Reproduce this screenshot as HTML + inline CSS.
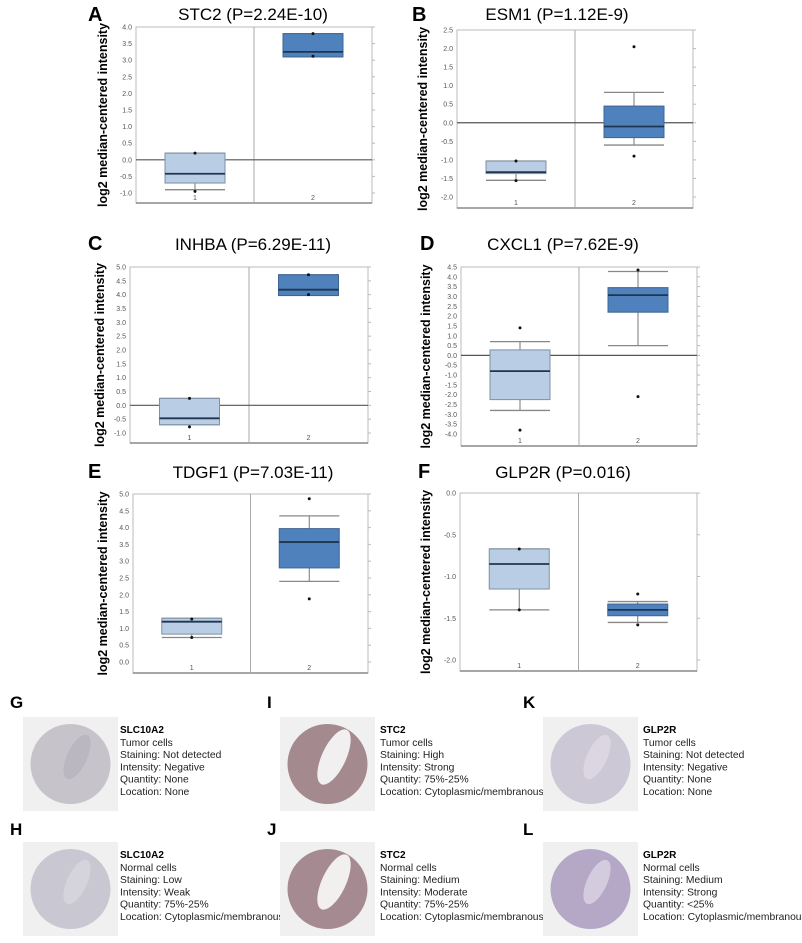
<!DOCTYPE html>
<html><head><meta charset="utf-8"><style>
body{margin:0;background:#fff;}
svg{display:block}
</style></head><body>
<svg id="s" width="802" height="943" xmlns="http://www.w3.org/2000/svg" font-family="Liberation Sans, sans-serif"></svg>
<script>
const P=[
{L:"A",lx:88,ly:21,t:"STC2 (P=2.24E-10)",tc:253,ty:20,x0:136,x1:372,ytop:27,ybot:193,vmax:4.0,vmin:-1.0,step:0.5,bot:203,yl:107,
 b:[[-0.9,-0.7,-0.42,0.2,0.2,[0.2,-0.95]],[3.1,3.1,3.25,3.8,3.8,[3.8,3.12]]]},
{L:"B",lx:412,ly:21,t:"ESM1 (P=1.12E-9)",tc:557,ty:20,x0:457,x1:693,ytop:30,ybot:197,vmax:2.5,vmin:-2.0,step:0.5,bot:208,yl:427,
 b:[[-1.55,-1.37,-1.33,-1.03,-1.03,[-1.03,-1.56]],[-0.6,-0.4,-0.1,0.45,0.82,[2.05,-0.9]]]},
{L:"C",lx:88,ly:250,t:"INHBA (P=6.29E-11)",tc:253,ty:250,x0:130,x1:368,ytop:267,ybot:433,vmax:5.0,vmin:-1.0,step:0.5,bot:443,yl:104,
 b:[[-0.7,-0.7,-0.47,0.25,0.25,[0.25,-0.78]],[3.97,3.97,4.18,4.72,4.72,[4.72,4.0]]]},
{L:"D",lx:420,ly:250,t:"CXCL1 (P=7.62E-9)",tc:563,ty:250,x0:461,x1:697,ytop:267,ybot:434,vmax:4.5,vmin:-4.0,step:0.5,bot:446,yl:430,
 b:[[-2.8,-2.25,-0.8,0.28,0.7,[1.4,-3.8]],[0.5,2.2,3.07,3.45,4.27,[4.35,-2.1]]]},
{L:"E",lx:88,ly:478,t:"TDGF1 (P=7.03E-11)",tc:253,ty:478,x0:133,x1:368,ytop:494,ybot:662,vmax:5.0,vmin:0.0,step:0.5,bot:673,yl:107,
 b:[[0.73,0.83,1.2,1.3,1.3,[1.28,0.73]],[2.4,2.8,3.57,3.97,4.35,[4.86,1.88]]]},
{L:"F",lx:418,ly:478,t:"GLP2R (P=0.016)",tc:563,ty:478,x0:460,x1:697,ytop:493,ybot:660,vmax:0.0,vmin:-2.0,step:0.5,bot:671,yl:430,
 b:[[-1.4,-1.15,-0.85,-0.67,-0.67,[-0.67,-1.4]],[-1.55,-1.47,-1.4,-1.33,-1.3,[-1.21,-1.58]]]}
];
let h="";
for(const p of P){
 const Y=v=>p.ytop+(p.vmax-v)/(p.vmax-p.vmin)*(p.ybot-p.ytop);
 h+=`<text x="${p.lx}" y="${p.ly}" font-size="20" font-weight="bold">${p.L}</text>`;
 h+=`<text x="${p.tc}" y="${p.ty}" font-size="17" text-anchor="middle">${p.t}</text>`;
 const w=p.x1-p.x0,xm=(p.x0+p.x1)/2;
 h+=`<rect x="${p.x0}" y="${p.ytop}" width="${w}" height="${p.bot-p.ytop}" fill="#fff" stroke="#bbb"/>`;
 h+=`<line x1="${p.x0}" y1="${p.bot}" x2="${p.x1}" y2="${p.bot}" stroke="#888" stroke-width="1.5"/>`;
 h+=`<line x1="${xm}" y1="${p.ytop}" x2="${xm}" y2="${p.bot}" stroke="#aaa"/>`;
 for(let v=p.vmax;v>=p.vmin-1e-6;v-=p.step){
  const y=Y(v);
  h+=`<text x="${p.x0-4}" y="${y+2.5}" font-size="7" fill="#555" text-anchor="end">${v.toFixed(1)}</text>`;
  h+=`<line x1="${p.x1}" y1="${y}" x2="${p.x1+3}" y2="${y}" stroke="#bbb"/>`;
 }
 if(p.vmin<0&&p.vmax>0) h+=`<line x1="${p.x0}" y1="${Y(0)}" x2="${p.x1}" y2="${Y(0)}" stroke="#555" stroke-width="1.2"/>`;
 h+=`<text x="${p.x0+w/4}" y="${p.bot-3}" font-size="7" fill="#555" text-anchor="middle">1</text>`;
 h+=`<text x="${p.x0+3*w/4}" y="${p.bot-3}" font-size="7" fill="#555" text-anchor="middle">2</text>`;
 h+=`<text transform="translate(${p.yl},${(p.ytop+p.bot)/2}) rotate(-90)" font-size="12.5" font-weight="bold" text-anchor="middle">log2 median-centered intensity</text>`;
 p.b.forEach((b,i)=>{
  const c=p.x0+w*(i?0.75:0.25),bw=60,x=c-bw/2;
  const fill=i?"#4f81bd":"#b9cde5",st=i?"#3d6593":"#7f8fa3";
  h+=`<line x1="${c}" y1="${Y(b[0])}" x2="${c}" y2="${Y(b[4])}" stroke="#777"/>`;
  h+=`<line x1="${x}" y1="${Y(b[0])}" x2="${x+bw}" y2="${Y(b[0])}" stroke="#888" stroke-width="1.3"/>`;
  h+=`<line x1="${x}" y1="${Y(b[4])}" x2="${x+bw}" y2="${Y(b[4])}" stroke="#888" stroke-width="1.3"/>`;
  h+=`<rect x="${x}" y="${Y(b[3])}" width="${bw}" height="${Math.max(2,Y(b[1])-Y(b[3]))}" fill="${fill}" stroke="${st}"/>`;
  h+=`<line x1="${x}" y1="${Y(b[2])}" x2="${x+bw}" y2="${Y(b[2])}" stroke="#1f3550" stroke-width="1.8"/>`;
  for(const o of b[5]) h+=`<circle cx="${c}" cy="${Y(o)}" r="1.5" fill="#111"/>`;
 });
}
const T=[
["G",10,708,23,717,120,"SLC10A2",["Tumor cells","Staining: Not detected","Intensity: Negative","Quantity: None","Location: None"],"#c6c3cb","#b3afbb",0],
["H",10,835,23,842,120,"SLC10A2",["Normal cells","Staining: Low","Intensity: Weak","Quantity: 75%-25%","Location: Cytoplasmic/membranous"],"#c9c8d2","#dddce2",0],
["I",267,708,280,717,380,"STC2",["Tumor cells","Staining: High","Intensity: Strong","Quantity: 75%-25%","Location: Cytoplasmic/membranous"],"#a48a8e","#f6f4f4",1],
["J",267,835,280,842,380,"STC2",["Normal cells","Staining: Medium","Intensity: Moderate","Quantity: 75%-25%","Location: Cytoplasmic/membranous"],"#a58a92","#f6f4f4",1],
["K",523,708,543,717,643,"GLP2R",["Tumor cells","Staining: Not detected","Intensity: Negative","Quantity: None","Location: None"],"#cdc8d6","#e4e0ea",0],
["L",523,835,543,842,643,"GLP2R",["Normal cells","Staining: Medium","Intensity: Strong","Quantity: <25%","Location: Cytoplasmic/membranous"],"#b4a8c6","#e8e4ee",0]
];
for(const t of T){
 const [L,lx,ly,ix,iy,tx,g,lines,c1,c2,wt]=t;
 h+=`<text x="${lx}" y="${ly}" font-size="17" font-weight="bold">${L}</text>`;
 h+=`<rect x="${ix}" y="${iy}" width="95" height="94" fill="#f0f0f0"/>`;
 h+=`<circle cx="${ix+47.5}" cy="${iy+47}" r="40" fill="${c1}"/>`;
 h+=`<ellipse cx="${ix+54}" cy="${iy+40}" rx="${wt?12:10}" ry="${wt?30:24}" fill="${c2}" opacity="${wt?0.95:0.6}" transform="rotate(25 ${ix+54} ${iy+40})"/>`;
 const by=iy+16;
 h+=`<text x="${tx}" y="${by}" font-size="10" font-weight="bold">${g}</text>`;
 lines.forEach((s,k)=>h+=`<text x="${tx}" y="${by+13+k*12.2}" font-size="10.3" fill="#222">${s}</text>`);
}
document.getElementById("s").innerHTML=h;
</script>
</body></html>
